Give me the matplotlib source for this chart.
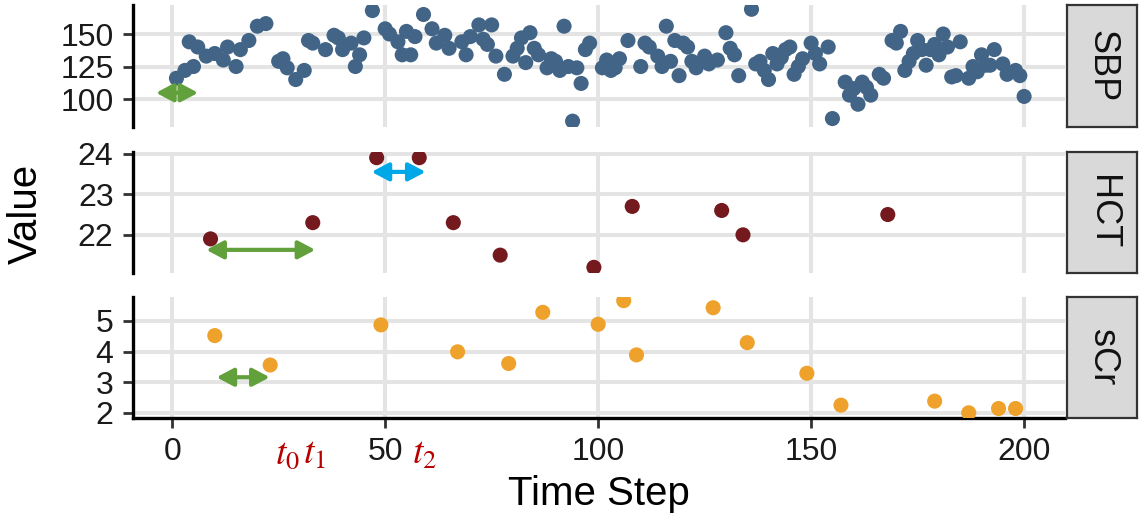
import matplotlib
matplotlib.use("Agg")
import matplotlib.pyplot as plt
from matplotlib import transforms

plt.rcParams['font.family'] = ['Liberation Sans', 'DejaVu Sans']
plt.rcParams['mathtext.fontset'] = 'stix'

# SBP readings (time step, value)
sbp_t = [1, 3, 4, 5, 6, 8, 10, 12, 13, 15, 16, 18, 20, 22, 25, 26, 27, 29, 31, 32,
         33, 36, 38, 39, 40, 42, 43, 44, 45, 47, 50, 51, 53, 54, 55, 56, 57, 59, 61, 62,
         64, 65, 68, 69, 70, 72, 73, 74, 75, 76, 78, 80, 81, 82, 83, 84, 85, 86, 88, 89,
         90, 91, 92, 93, 94, 95, 96, 97, 98, 101, 102, 103, 104, 105, 107, 110, 111, 112, 114, 115,
         116, 117, 118, 119, 120, 121, 122, 123, 125, 126, 128, 130, 131, 132, 133, 136, 137, 138, 139, 140,
         141, 142, 143, 144, 145, 146, 147, 148, 150, 151, 152, 154, 155, 158, 159, 160, 161, 162, 163, 164,
         166, 167, 169, 170, 171, 172, 173, 174, 175, 176, 177, 178, 179, 180, 181, 182, 183, 184, 185, 187,
         188, 189, 190, 191, 192, 193, 195, 196, 198, 199, 200]
sbp_v = [116, 122, 144, 125, 140, 133, 135, 130, 140, 125, 138, 145, 156, 158, 129, 131, 124, 115, 122, 145,
         143, 138, 149, 147, 138, 143, 125, 134, 147, 168, 154, 150, 144, 134, 152, 134, 148, 165, 154, 143,
         149, 139, 144, 134, 148, 157, 146, 142, 157, 133, 119, 133, 139, 147, 128, 151, 139, 134, 124, 131,
         129, 122, 156, 125, 83, 124, 112, 138, 143, 124, 130, 122, 124, 131, 145, 125, 143, 140, 133, 125,
         156, 129, 145, 118, 143, 140, 129, 124, 133, 127, 130, 151, 139, 134, 118, 169, 127, 129, 122, 115,
         135, 127, 132, 138, 140, 119, 125, 131, 143, 135, 127, 140, 85, 113, 103, 108, 96, 113, 109, 103,
         119, 116, 145, 143, 152, 122, 129, 135, 145, 138, 126, 138, 142, 134, 150, 140, 117, 118, 144, 116,
         125, 121, 134, 126, 126, 138, 127, 119, 122, 118, 102]

# HCT readings
hct_t = [9, 33, 48, 58, 66, 77, 99, 108, 129, 134, 168]
hct_v = [21.9, 22.3, 23.9, 23.9, 22.3, 21.5, 21.2, 22.7, 22.6, 22.0, 22.5]

# sCr readings
scr_t = [10, 23, 49, 67, 79, 87, 100, 106, 109, 127, 135, 149, 157, 179, 187, 194, 198]
scr_v = [4.52, 3.56, 4.87, 3.99, 3.61, 5.28, 4.89, 5.66, 3.89, 5.43, 4.29, 3.29, 2.25, 2.38, 2.0, 2.14, 2.14]

panel_names = ["SBP", "HCT", "sCr"]
x_ticks = [0, 50, 100, 150, 200]
y_ticks = [[100, 125, 150], [22, 23, 24], [2, 3, 4, 5]]
y_lims = [(78.5, 172.3), (21.06, 24.04), (1.83, 5.78)]
colors = ["#426587", "#741a1e", "#eea12b"]

# time marks under the axis
marks = ["$t_0$", "$t_1$", "$t_2$"]
mark_t = [27, 33.4, 59.2]

# double arrows: panel, start, end, level, colour
arrows = [(0, -3.8, 6.1, 104.8, "#62a03c"),
          (1, 8, 33.6, 21.63, "#62a03c"),
          (1, 46.8, 59.5, 23.55, "#00a8e8"),
          (2, 10.4, 22.9, 3.16, "#62a03c")]

W, H = 1139, 519
fig = plt.figure(figsize=(W / 100, H / 100), dpi=100)

# panel boxes in pixels (top, bottom)
boxes = [(5, 127), (152, 273), (297, 418)]
left, right = 133, 1065
s_left, s_right = 1067, 1137

data = [(sbp_t, sbp_v), (hct_t, hct_v), (scr_t, scr_v)]
axes = []
for i, (top, bot) in enumerate(boxes):
    ax = fig.add_axes([left / W, 1 - bot / H, (right - left) / W, (bot - top) / H])
    t, v = data[i]
    ax.scatter(t, v, s=118, color=colors[i], edgecolor="none", zorder=3)
    ax.set_xlim(-9.2, 209.6)
    ax.set_ylim(*y_lims[i])
    ax.set_xticks(x_ticks)
    ax.set_yticks(y_ticks[i])
    ax.grid(True, color="#e4e4e4", lw=2.9)
    ax.set_axisbelow(True)
    for s in ["top", "right"]:
        ax.spines[s].set_visible(False)
    ax.spines["left"].set_linewidth(2.4)
    ax.spines["bottom"].set_linewidth(2.4)
    ax.tick_params(direction="out", length=7, width=2, color="#333333",
                   labelsize=23, labelcolor="#1a1a1a", pad=7)
    if i < 2:
        ax.spines["bottom"].set_visible(False)
        ax.tick_params(axis="x", length=0, labelbottom=False)
    axes.append(ax)

    # strip label
    sx = fig.add_axes([s_left / W, 1 - bot / H, (s_right - s_left) / W, (bot - top) / H])
    sx.set_facecolor("#d9d9d9")
    sx.set_xticks([])
    sx.set_yticks([])
    for s in sx.spines.values():
        s.set_color("#333333")
        s.set_linewidth(1.6)
    sx.text(0.5, 0.5, panel_names[i], rotation=-90, ha="center", va="center",
            fontsize=26, color="#111111", transform=sx.transAxes)

for p, x0, x1, y, c in arrows:
    axes[p].annotate("", xy=(x1, y), xytext=(x0, y),
                     arrowprops=dict(arrowstyle="<|-|>,head_length=0.85,head_width=0.45",
                                     color=c, lw=3.0, shrinkA=0, shrinkB=0,
                                     mutation_scale=12),
                     zorder=5)

# red time marks
tr = transforms.blended_transform_factory(axes[2].transData, fig.transFigure)
for lab, t in zip(marks, mark_t):
    fig.text(t, 1 - 436 / H, lab, transform=tr, ha="center", va="top",
             fontsize=27, color="#b80000")

fig.text(26 / W, 1 - 214 / H, "Value", rotation=90, ha="center", va="center", fontsize=29)
fig.text(599 / W, 1 - 494 / H, "Time Step", ha="center", va="center", fontsize=29)

fig.savefig("out.png", dpi=100)
